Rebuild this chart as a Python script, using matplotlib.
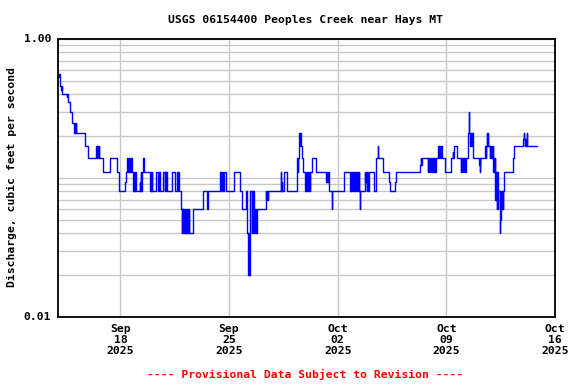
import matplotlib
matplotlib.use("Agg")
import matplotlib.pyplot as plt
import matplotlib.dates as mdates
from matplotlib.ticker import FixedLocator, NullFormatter, LogLocator
import numpy as np
import pandas as pd

title = "USGS 06154400 Peoples Creek near Hays MT"
ylabel = "Discharge, cubic feet per second"
footer = "---- Provisional Data Subject to Revision ----"
start = pd.Timestamp("2025-09-14 00:00")
end = pd.Timestamp("2025-10-16 00:00")
tick_dates = ["2025-09-18", "2025-09-25", "2025-10-02", "2025-10-09", "2025-10-16"]
tick_labels = ["Sep\n18\n2025", "Sep\n25\n2025", "Oct\n02\n2025", "Oct\n09\n2025", "Oct\n16\n2025"]

# days since Sep 14 00:00 at which discharge changes, and new value (cfs)
day_offsets = [
    0.000, 0.032, 0.058, 0.084, 0.129, 0.193, 0.219, 0.238, 0.258, 0.560,
    0.592, 0.612, 0.625, 0.753, 0.882, 1.011, 1.050, 1.088, 1.127, 1.165,
    1.700, 1.932, 2.427, 2.473, 2.518, 2.563, 2.608, 2.653, 2.859, 3.348,
    3.799, 3.928, 4.314, 4.346, 4.443, 4.488, 4.533, 4.578, 4.623, 4.668,
    4.713, 4.746, 4.810, 4.855, 4.900, 4.945, 4.984, 5.261, 5.287, 5.313,
    5.338, 5.370, 5.486, 5.538, 5.924, 5.962, 6.001, 6.033, 6.053, 6.310,
    6.439, 6.484, 6.568, 6.722, 6.851, 6.890, 6.928, 6.961, 6.980, 7.340,
    7.494, 7.624, 7.708, 7.740, 7.785, 7.901, 7.940, 7.978, 8.017, 8.055,
    8.094, 8.133, 8.158, 8.248, 8.287, 8.326, 8.364, 8.403, 8.422, 8.693,
    9.337, 9.588, 9.614, 10.412, 10.451, 10.489, 10.528, 10.567, 10.605, 10.644,
    10.682, 10.708, 10.779, 11.333, 11.719, 11.848, 12.067, 12.086, 12.170, 12.234,
    12.266, 12.292, 12.324, 12.453, 12.492, 12.530, 12.569, 12.601, 12.640, 12.678,
    12.717, 12.756, 12.775, 13.374, 13.412, 13.451, 13.490, 13.522, 14.359, 14.378,
    14.423, 14.443, 14.533, 14.745, 15.351, 15.389, 15.421, 15.447, 15.479, 15.518,
    15.550, 15.576, 15.608, 15.673, 15.756, 15.904, 15.950, 15.988, 16.033, 16.078,
    16.143, 16.188, 16.226, 16.336, 16.574, 17.257, 17.289, 17.321, 17.353, 17.411,
    17.636, 17.656, 18.396, 18.782, 18.827, 18.872, 18.918, 18.963, 18.989, 19.040,
    19.085, 19.130, 19.175, 19.220, 19.266, 19.311, 19.356, 19.401, 19.427, 19.446,
    19.730, 19.768, 19.813, 19.858, 19.897, 19.942, 19.987, 20.328, 20.438, 20.476,
    20.599, 20.624, 20.927, 21.313, 21.358, 21.700, 21.764, 23.335, 23.367, 23.400,
    23.432, 23.805, 23.850, 23.889, 23.934, 24.017, 24.062, 24.108, 24.153, 24.198,
    24.243, 24.288, 24.333, 24.468, 24.501, 24.533, 24.578, 24.662, 24.694, 24.919,
    25.331, 25.415, 25.447, 25.479, 25.498, 25.692, 25.930, 25.975, 26.020, 26.065,
    26.110, 26.155, 26.200, 26.245, 26.278, 26.297, 26.400, 26.458, 26.477, 26.555,
    26.593, 26.632, 26.671, 26.690, 26.703, 27.108, 27.141, 27.173, 27.192, 27.495,
    27.533, 27.572, 27.604, 27.636, 27.669, 27.714, 27.797, 27.836, 27.874, 27.913,
    27.952, 27.990, 28.009, 28.048, 28.087, 28.119, 28.138, 28.170, 28.203, 28.229,
    28.261, 28.293, 28.325, 28.358, 28.441, 28.461, 28.486, 28.525, 28.564, 28.602,
    28.635, 28.654, 28.718, 29.298, 29.388, 29.942, 30.006, 30.032, 30.051, 30.090,
    30.128, 30.167, 30.199, 30.219, 30.869,
]
discharge = [
    0.56, 0.53, 0.56, 0.53, 0.46, 0.43, 0.46, 0.43, 0.40, 0.38,
    0.40, 0.38, 0.35, 0.30, 0.25, 0.21, 0.25, 0.21, 0.25, 0.21,
    0.17, 0.14, 0.17, 0.14, 0.17, 0.14, 0.17, 0.14, 0.11, 0.14,
    0.11, 0.08, 0.094, 0.11, 0.14, 0.11, 0.14, 0.11, 0.14, 0.11,
    0.14, 0.11, 0.08, 0.11, 0.08, 0.11, 0.08, 0.094, 0.08, 0.11,
    0.08, 0.11, 0.14, 0.11, 0.08, 0.11, 0.08, 0.11, 0.08, 0.11,
    0.08, 0.11, 0.08, 0.11, 0.08, 0.11, 0.08, 0.11, 0.08, 0.11,
    0.08, 0.11, 0.08, 0.11, 0.08, 0.06, 0.04, 0.06, 0.04, 0.06,
    0.04, 0.06, 0.04, 0.06, 0.04, 0.06, 0.04, 0.06, 0.04, 0.06,
    0.08, 0.06, 0.08, 0.11, 0.08, 0.11, 0.08, 0.11, 0.08, 0.11,
    0.08, 0.11, 0.08, 0.11, 0.08, 0.06, 0.07, 0.08, 0.04, 0.02,
    0.04, 0.02, 0.08, 0.04, 0.08, 0.04, 0.08, 0.04, 0.06, 0.04,
    0.06, 0.04, 0.06, 0.08, 0.07, 0.08, 0.07, 0.08, 0.11, 0.08,
    0.094, 0.08, 0.11, 0.08, 0.11, 0.14, 0.11, 0.14, 0.17, 0.21,
    0.17, 0.21, 0.17, 0.14, 0.11, 0.08, 0.11, 0.08, 0.11, 0.08,
    0.11, 0.08, 0.11, 0.14, 0.11, 0.094, 0.11, 0.094, 0.11, 0.08,
    0.06, 0.08, 0.11, 0.08, 0.11, 0.08, 0.11, 0.08, 0.11, 0.08,
    0.11, 0.08, 0.11, 0.08, 0.11, 0.08, 0.11, 0.08, 0.06, 0.08,
    0.11, 0.094, 0.11, 0.08, 0.11, 0.08, 0.11, 0.08, 0.11, 0.14,
    0.17, 0.14, 0.11, 0.094, 0.08, 0.094, 0.11, 0.125, 0.14, 0.125,
    0.14, 0.11, 0.14, 0.11, 0.14, 0.11, 0.14, 0.11, 0.14, 0.11,
    0.14, 0.11, 0.14, 0.17, 0.14, 0.17, 0.14, 0.17, 0.14, 0.11,
    0.14, 0.155, 0.14, 0.155, 0.17, 0.14, 0.11, 0.14, 0.11, 0.14,
    0.11, 0.14, 0.11, 0.14, 0.11, 0.14, 0.21, 0.30, 0.21, 0.17,
    0.21, 0.17, 0.21, 0.17, 0.14, 0.125, 0.14, 0.11, 0.14, 0.17,
    0.14, 0.17, 0.21, 0.17, 0.21, 0.17, 0.14, 0.17, 0.14, 0.17,
    0.14, 0.17, 0.11, 0.14, 0.11, 0.14, 0.07, 0.11, 0.07, 0.11,
    0.06, 0.11, 0.06, 0.08, 0.06, 0.04, 0.05, 0.08, 0.06, 0.08,
    0.06, 0.08, 0.11, 0.14, 0.17, 0.19, 0.21, 0.19, 0.17, 0.19,
    0.17, 0.19, 0.21, 0.17, 0.17,
]

times = start + pd.to_timedelta(day_offsets, unit="D")

mono = "DejaVu Sans Mono"
fs = 8.2

fig = plt.figure(figsize=(5.76, 3.84), dpi=100)
ax = fig.add_axes([0.1012, 0.1745, 0.8623, 0.7239])

ax.step(times, discharge, where="post", color="#0000ff", linewidth=1.0)

ax.set_yscale("log")
ax.set_ylim(0.01, 1.0)
ax.set_xlim(start, end)

ax.yaxis.set_major_locator(FixedLocator([0.01, 1.0]))
ax.set_yticklabels(["0.01", "1.00"])
ax.yaxis.set_minor_locator(LogLocator(base=10, subs=np.arange(1, 10)))
ax.yaxis.set_minor_formatter(NullFormatter())

ax.set_xticks(pd.to_datetime(tick_dates))
ax.set_xticklabels(tick_labels, linespacing=1.15)

ax.grid(True, which="both", axis="y", color="#c8c8c8", linewidth=1.0)
ax.grid(True, which="major", axis="x", color="#c8c8c8", linewidth=1.0)
ax.set_axisbelow(True)

ax.tick_params(axis="both", which="both", length=0, pad=5)
for lab in ax.get_xticklabels() + ax.get_yticklabels():
    lab.set_fontfamily(mono)
    lab.set_fontweight("bold")
    lab.set_fontsize(fs)
for lab in ax.get_yticklabels():
    lab.set_verticalalignment("center")

for sp in ax.spines.values():
    sp.set_linewidth(1.3)
    sp.set_color("black")

fig.text(0.531, 0.948, title, ha="center", va="center", fontfamily=mono,
         fontweight="bold", fontsize=fs)
fig.text(0.021, 0.538, ylabel, ha="center", va="center", rotation=90,
         fontfamily=mono, fontweight="bold", fontsize=fs)
fig.text(0.53, 0.024, footer, ha="center", va="center", fontfamily=mono,
         fontweight="bold", fontsize=fs, color="#ff0000")

fig.savefig("out.png", dpi=100)
